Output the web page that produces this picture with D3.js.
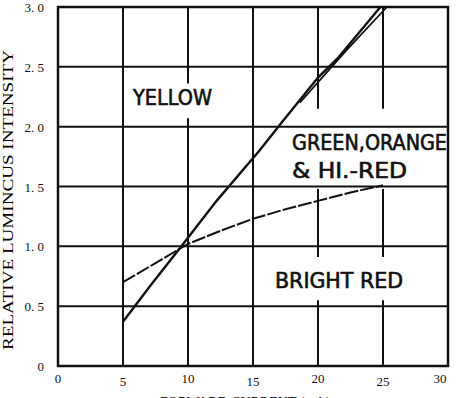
<!DOCTYPE html>
<html lang="en">
<head>
<meta charset="utf-8">
<title>Relative Luminous Intensity vs Forward Current</title>
<script src="https://d3js.org/d3.v7.min.js"></script>
<style>
  body { margin: 0; background: #fff; }
  svg { display: block; }
  .tick-label { font-family: "Liberation Serif", "DejaVu Serif", serif; font-size: 13px; fill: #111; }
  .region-label { font-family: "DejaVu Sans Condensed", "DejaVu Sans", sans-serif; font-size: 21px; fill: #111; stroke: #111; stroke-width: 0.6px; }
</style>
</head>
<body>
<div id="chart"></div>
<script>
// forward current ticks (mA) and intensity ticks
var xTicks = [0, 5, 10, 15, 20, 25, 30]
var yTicks = [0, 0.5, 1.0, 1.5, 2.0, 2.5, 3.0]
var yTickLabels = ["0", "0. 5", "1. 0", "1. 5", "2. 0", "2. 5", "3. 0"]

// steep curve (two nearly overlapping traces at the top)
var steepA = [[5, 0.37], [7.1, 0.67], [9.7, 1.03], [12.2, 1.38], [15.5, 1.8], [17.1, 2.02], [20, 2.41], [21.5, 2.57], [24.8, 3.0]]
var steepB = [[18.6, 2.2], [20.4, 2.42], [22.2, 2.64], [25.3, 3.0]]
// shallow curve
var shallow = [[5, 0.7], [7.5, 0.86], [10, 1.02], [12.5, 1.13], [15, 1.23], [17.5, 1.31], [20, 1.38], [22.5, 1.45], [25, 1.51]]

var width = 462, height = 398
var margin = {left: 58, top: 7, right: 14, bottom: 32}

var svg = d3.select("#chart").append("svg")
    .attr("width", width)
    .attr("height", height)

var x = d3.scaleLinear().domain([0, 30]).range([margin.left, width - margin.right])
var y = d3.scaleLinear().domain([0, 3]).range([height - margin.bottom, margin.top])

// vertical grid lines, broken where the region labels sit
var vGaps = {10: [[2.07, 2.36]], 20: [[1.48, 2.15], [0.55, 0.91]], 25: [[1.48, 2.15], [0.55, 0.91]]}
var grid = svg.append("g").attr("stroke", "#111").attr("stroke-width", 2)
xTicks.slice(1, -1).forEach(function(t) {
    var gaps = vGaps[t] || []
    var pieces = [], top = 3
    gaps.slice().sort(function(a, b) { return b[0] - a[0] }).forEach(function(g) {
        pieces.push([g[1], top]); top = g[0]
    })
    pieces.push([0, top])
    pieces.forEach(function(p) {
        grid.append("line")
            .attr("x1", x(t)).attr("x2", x(t))
            .attr("y1", y(p[0])).attr("y2", y(p[1]))
    })
})
yTicks.slice(1, -1).forEach(function(t) {
    grid.append("line")
        .attr("x1", x(0)).attr("x2", x(30))
        .attr("y1", y(t)).attr("y2", y(t))
})

// frame
svg.append("rect")
    .attr("x", x(0)).attr("y", y(3))
    .attr("width", x(30) - x(0)).attr("height", y(0) - y(3))
    .attr("fill", "none").attr("stroke", "#111").attr("stroke-width", 2.5)

// curves
var line = d3.line().x(function(d) { return x(d[0]) }).y(function(d) { return y(d[1]) })
svg.append("path").datum(steepA).attr("d", line)
    .attr("fill", "none").attr("stroke", "#111").attr("stroke-width", 2.4)
svg.append("path").datum(steepB).attr("d", line)
    .attr("fill", "none").attr("stroke", "#111").attr("stroke-width", 1.8)
svg.append("path").datum(shallow).attr("d", line)
    .attr("fill", "none").attr("stroke", "#111").attr("stroke-width", 2)
    .attr("stroke-dasharray", "14,2")

// tick labels
svg.selectAll("text.ylab").data(yTicks).enter().append("text")
    .attr("class", "tick-label ylab")
    .attr("x", 44)
    .attr("y", function(d) { return y(d) + 5 })
    .attr("text-anchor", "end")
    .text(function(d, i) { return yTickLabels[i] })

svg.selectAll("text.xlab").data(xTicks).enter().append("text")
    .attr("class", "tick-label xlab")
    .attr("x", function(d) { return d === 30 ? x(d) - 8 : x(d) })
    .attr("y", function(d, i) { return i % 2 ? 386 : 383 })
    .attr("text-anchor", "middle")
    .text(function(d) { return d })

// axis titles
svg.append("text")
    .attr("transform", "translate(13," + 200 + ") rotate(-90)")
    .attr("text-anchor", "middle")
    .attr("textLength", 300)
    .attr("lengthAdjust", "spacingAndGlyphs")
    .style("font-family", "Liberation Serif, serif")
    .style("font-size", "14px")
    .text("RELATIVE LUMINCUS INTENSITY")

// x title, cut off by the bottom edge as in the scan
svg.append("text")
    .attr("x", 160).attr("y", 407)
    .style("font-family", "Liberation Serif, serif")
    .style("font-size", "14px")
    .text("FORWARD CURRENT (mA)")

// region labels
function label(txt, lx, ly, len) {
    svg.append("text").attr("class", "region-label")
        .attr("x", lx).attr("y", ly)
        .attr("textLength", len).attr("lengthAdjust", "spacingAndGlyphs")
        .text(txt)
}
label("YELLOW", 133, 105, 79)
label("GREEN,ORANGE", 292, 150, 155)
label("& HI.-RED", 292, 178, 115)
label("BRIGHT RED", 275, 288, 128)
</script>
</body>
</html>
